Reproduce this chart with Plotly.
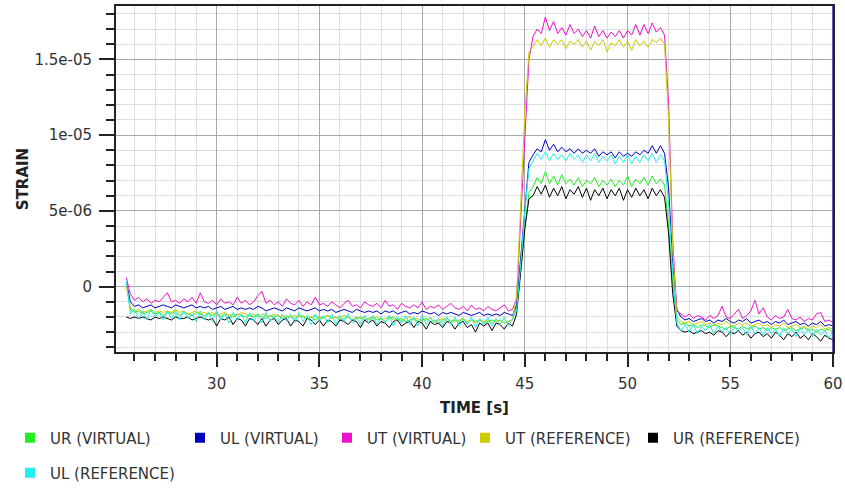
import plotly.graph_objects as go

# sample times (s): 25.6 ... 60.0 every 0.2 s
TIME = [round(25.6 + 0.2 * i, 1) for i in range(173)]

# strain values in micro-strain (x1e-6); segments: 25.6-44.4 | 44.6-45.2 | 45.4-51.8 | 52.0-52.2 | 52.4-60.0
UR_VIRTUAL = [
    0.2, -1.5, -1.7, -1.6, -1.8, -1.7, -1.6, -1.8, -1.7, -1.9,
    -1.7, -1.8, -1.6, -1.9, -1.7, -1.8, -1.9, -1.7, -1.8, -1.9,
    -1.8, -1.9, -1.7, -2.0, -1.8, -1.9, -2.0, -1.8, -1.9, -2.0,
    -1.9, -2.0, -1.8, -2.0, -2.1, -1.9, -2.0, -1.9, -2.1, -2.0,
    -2.0, -2.1, -1.9, -2.0, -2.1, -2.0, -2.2, -2.0, -2.1, -1.9,
    -2.1, -2.0, -2.2, -2.1, -2.0, -2.2, -2.1, -2.0, -2.2, -2.1,
    -2.0, -2.2, -2.1, -2.3, -2.1, -2.0, -2.2, -2.1, -2.3, -2.2,
    -2.1, -2.3, -2.2, -2.1, -2.3, -2.2, -2.4, -2.2, -2.1, -2.3,
    -2.2, -2.3, -2.1, -2.4, -2.2, -2.3, -2.2, -2.4, -2.3, -2.2,
    -2.3, -2.2, -2.4, -2.3, -2.2,
    -1.4, 1.0, 4.0, 6.2,
    6.6, 7.2, 6.8, 7.6, 6.8, 7.3, 6.7, 7.4, 6.8, 7.1,
    6.7, 7.2, 6.6, 7.0, 6.8, 7.2, 6.6, 7.0, 6.7, 7.1,
    6.6, 7.0, 6.7, 7.3, 6.6, 7.1, 6.8, 7.2, 6.7, 7.3,
    6.8, 7.1, 6.7,
    4.0, 0.2,
    -2.2, -2.5, -2.4, -2.6, -2.5, -2.7, -2.5, -2.6, -2.7, -2.5,
    -2.6, -2.7, -2.8, -2.6, -2.7, -2.8, -2.6, -2.8, -2.7, -2.6,
    -2.8, -2.7, -2.9, -2.7, -2.8, -2.7, -2.9, -2.8, -2.7, -2.9,
    -2.8, -2.7, -2.9, -2.8, -3.0, -2.8, -2.9, -2.8, -3.0,
]

UL_VIRTUAL = [
    0.3, -1.0, -1.3, -1.2, -1.4, -1.3, -1.2, -1.4, -1.3, -1.2,
    -1.3, -1.4, -1.2, -1.3, -1.4, -1.3, -1.2, -1.4, -1.3, -1.4,
    -1.3, -1.5, -1.4, -1.3, -1.5, -1.4, -1.3, -1.5, -1.4, -1.5,
    -1.4, -1.5, -1.3, -1.4, -1.6, -1.5, -1.4, -1.5, -1.6, -1.4,
    -1.5, -1.6, -1.4, -1.5, -1.6, -1.5, -1.4, -1.6, -1.5, -1.6,
    -1.5, -1.7, -1.6, -1.5, -1.6, -1.7, -1.5, -1.6, -1.7, -1.6,
    -1.7, -1.6, -1.8, -1.6, -1.7, -1.6, -1.8, -1.7, -1.6, -1.8,
    -1.7, -1.8, -1.6, -1.7, -1.8, -1.7, -1.9, -1.7, -1.8, -1.7,
    -1.8, -1.9, -1.7, -1.8, -1.9, -1.8, -1.7, -1.9, -1.8, -1.9,
    -1.8, -1.9, -1.7, -1.8, -1.9,
    -1.2, 2.0, 5.5, 8.2,
    8.7, 9.1, 8.9, 9.7, 9.0, 9.4, 8.9, 9.2, 8.9, 9.1,
    8.8, 9.1, 8.8, 9.0, 8.8, 9.1, 8.6, 8.9, 8.7, 8.9,
    8.5, 8.9, 8.6, 8.8, 8.6, 8.9, 8.7, 9.0, 8.8, 9.3,
    8.8, 9.3, 8.8,
    6.5, 1.5,
    -1.5, -2.0, -2.2, -2.1, -2.3, -2.2, -2.1, -2.3, -2.2, -2.4,
    -2.2, -2.3, -2.1, -2.3, -2.4, -2.2, -2.3, -2.1, -2.4, -2.3,
    -2.2, -2.4, -2.3, -2.5, -2.3, -2.4, -2.2, -2.5, -2.4, -2.3,
    -2.5, -2.4, -2.6, -2.4, -2.5, -2.3, -2.6, -2.5, -2.6,
]

UT_VIRTUAL = [
    0.6, -0.5, -0.9, -0.7, -1.0, -0.8, -1.1, -0.9, -1.0, -0.7,
    -0.4, -1.0, -0.9, -1.1, -0.8, -1.0, -0.7, -1.1, -0.4, -1.0,
    -1.1, -0.9, -1.2, -0.8, -1.1, -1.0, -1.2, -0.7, -1.1, -0.9,
    -1.2, -1.0, -0.6, -0.3, -1.1, -0.9, -1.2, -1.0, -1.3, -0.8,
    -1.1, -1.2, -0.9, -1.3, -1.0, -1.2, -0.7, -1.2, -1.1, -1.3,
    -1.0, -1.2, -1.4, -1.1, -0.9, -1.3, -1.2, -1.4, -1.0, -1.2,
    -1.3, -1.1, -1.4, -0.9, -1.3, -1.2, -1.5, -1.1, -1.3, -1.4,
    -1.2, -1.4, -1.0, -1.5, -1.3, -1.4, -1.2, -1.5, -1.3, -1.1,
    -1.4, -1.5, -1.3, -1.6, -1.2, -1.5, -1.4, -1.6, -1.3, -1.5,
    -1.6, -1.4, -1.2, -1.6, -1.5,
    -0.8, 4.5, 10.5, 15.0,
    16.5, 17.0, 16.7, 17.8, 16.9, 17.5, 16.7, 17.1, 16.6, 17.3,
    16.7, 17.0, 16.5, 16.9, 16.4, 17.2, 16.5, 16.9, 16.4, 16.8,
    16.5, 16.9, 16.4, 16.9, 16.6, 17.3, 16.6, 17.3, 16.7, 17.4,
    16.8, 17.1, 16.6,
    12.0, 3.0,
    -1.6, -1.8, -2.0, -1.8, -2.1, -1.9, -2.0, -2.2, -1.9, -2.1,
    -1.9, -1.3, -2.0, -2.1, -1.8, -1.5, -2.1, -1.9, -1.6, -0.9,
    -1.8, -1.4, -2.0, -2.2, -1.9, -2.1, -2.0, -1.5, -2.1, -2.2,
    -2.0, -2.3, -2.1, -2.2, -1.8, -1.7, -2.3, -2.2, -2.4,
]

UT_REFERENCE = [
    0.1, -1.4, -1.6, -1.5, -1.7, -1.6, -1.5, -1.7, -1.6, -1.7,
    -1.6, -1.7, -1.5, -1.7, -1.6, -1.8, -1.7, -1.6, -1.8, -1.7,
    -1.8, -1.7, -1.9, -1.8, -1.7, -1.9, -1.8, -1.9, -1.7, -1.8,
    -1.9, -1.8, -2.0, -1.8, -1.9, -2.0, -1.8, -1.9, -2.0, -1.9,
    -2.0, -1.9, -2.0, -1.9, -2.1, -2.0, -1.9, -2.1, -2.0, -1.9,
    -2.1, -2.0, -2.1, -1.9, -2.0, -2.2, -2.0, -2.1, -2.0, -2.2,
    -2.1, -2.0, -2.2, -2.1, -2.0, -2.2, -2.1, -2.3, -2.1, -2.0,
    -2.2, -2.1, -2.3, -2.2, -2.1, -2.3, -2.2, -2.1, -2.3, -2.2,
    -2.3, -2.2, -2.1, -2.3, -2.2, -2.4, -2.2, -2.3, -2.2, -2.4,
    -2.3, -2.2, -2.4, -2.3, -2.2,
    -0.6, 5.5, 11.5, 15.5,
    15.8, 16.3, 15.9, 16.4, 15.8, 16.3, 16.0, 16.3, 15.7, 16.2,
    16.0, 16.3, 15.8, 16.2, 15.6, 16.2, 15.9, 16.3, 15.5, 16.1,
    15.9, 16.3, 15.8, 16.2, 15.6, 16.3, 15.9, 16.2, 15.8, 16.3,
    16.1, 16.4, 16.0,
    11.0, 2.5,
    -2.0, -2.3, -2.4, -2.3, -2.5, -2.4, -2.3, -2.5, -2.4, -2.6,
    -2.4, -2.5, -2.3, -2.5, -2.6, -2.4, -2.5, -2.4, -2.6, -2.5,
    -2.4, -2.6, -2.5, -2.7, -2.5, -2.6, -2.4, -2.7, -2.6, -2.5,
    -2.7, -2.6, -2.8, -2.6, -2.7, -2.5, -2.8, -2.7, -2.8,
]

UR_REFERENCE = [
    -2.0, -2.1, -2.0, -2.1, -2.0, -2.1, -2.2, -2.0, -2.1, -2.0,
    -2.1, -2.2, -2.0, -2.1, -2.1, -2.0, -2.2, -2.1, -2.0, -2.1,
    -2.2, -2.1, -2.6, -2.1, -2.2, -2.0, -2.5, -2.1, -2.2, -2.6,
    -2.1, -2.2, -2.5, -2.1, -2.6, -2.2, -2.1, -2.5, -2.2, -2.1,
    -2.6, -2.2, -2.3, -2.6, -2.1, -2.2, -2.5, -2.2, -2.6, -2.2,
    -2.3, -2.6, -2.2, -2.3, -2.5, -2.2, -2.3, -2.7, -2.2, -2.4,
    -2.2, -2.6, -2.3, -2.4, -2.7, -2.3, -2.2, -2.6, -2.4, -2.3,
    -2.7, -2.3, -2.4, -2.8, -2.3, -2.5, -2.4, -2.7, -2.3, -2.4,
    -2.8, -2.4, -2.3, -2.7, -2.5, -3.0, -2.4, -2.6, -2.4, -2.9,
    -2.4, -2.5, -2.8, -2.4, -2.6,
    -1.8, 0.8, 3.8, 5.8,
    6.0, 6.6, 6.1, 6.7, 5.9, 6.5, 6.0, 6.6, 5.8, 6.4,
    6.1, 6.6, 5.9, 6.5, 5.7, 6.4, 6.0, 6.5, 5.8, 6.4,
    6.0, 6.5, 5.7, 6.4, 5.9, 6.5, 6.0, 6.4, 5.8, 6.5,
    6.0, 6.4, 5.9,
    3.5, -0.5,
    -2.6, -2.9, -3.0, -2.9, -3.1, -3.0, -2.9, -3.1, -3.0, -3.2,
    -2.9, -3.0, -3.3, -3.0, -3.1, -2.9, -3.2, -3.0, -3.4, -3.1,
    -3.0, -3.3, -3.1, -3.4, -3.0, -3.2, -3.5, -3.1, -3.3, -3.0,
    -3.4, -3.2, -3.5, -3.1, -3.3, -3.6, -3.2, -3.4, -3.5,
]

UL_REFERENCE = [
    0.4, -1.8, -1.5, -2.1, -1.6, -2.2, -1.5, -2.0, -1.7, -2.2,
    -1.6, -2.1, -1.7, -2.2, -1.6, -2.1, -1.8, -2.3, -1.6, -2.2,
    -1.7, -2.3, -1.6, -2.2, -1.8, -2.4, -1.7, -2.2, -1.8, -2.4,
    -1.7, -2.3, -1.8, -2.4, -1.7, -2.3, -1.9, -2.4, -1.8, -2.3,
    -1.8, -2.4, -1.7, -2.3, -1.9, -2.5, -1.8, -2.3, -1.9, -2.4,
    -1.8, -2.5, -1.9, -2.3, -1.8, -2.4, -2.0, -2.5, -1.9, -2.4,
    -1.9, -2.5, -2.0, -2.4, -1.9, -2.6, -2.0, -2.4, -1.9, -2.5,
    -2.0, -2.6, -1.9, -2.5, -2.0, -2.4, -2.1, -2.6, -2.0, -2.5,
    -2.0, -2.6, -2.1, -2.5, -2.0, -2.7, -2.1, -2.5, -2.0, -2.6,
    -2.1, -2.5, -2.0, -2.6, -2.1,
    -1.6, 1.5, 5.0, 7.8,
    8.3, 8.8, 8.4, 8.9, 8.3, 8.8, 8.4, 8.7, 8.3, 8.8,
    8.4, 8.7, 8.2, 8.7, 8.3, 8.8, 8.2, 8.6, 8.3, 8.7,
    8.1, 8.6, 8.2, 8.7, 8.1, 8.6, 8.2, 8.7, 8.3, 8.8,
    8.2, 8.7, 8.3,
    5.5, 0.8,
    -2.4, -2.9, -2.5, -3.0, -2.5, -3.1, -2.6, -2.9, -2.5, -3.1,
    -2.6, -3.0, -2.7, -3.2, -2.6, -3.0, -2.7, -3.2, -2.6, -3.1,
    -2.7, -3.2, -2.7, -3.1, -2.8, -3.3, -2.7, -3.1, -2.8, -3.3,
    -2.7, -3.2, -2.8, -3.3, -2.8, -3.2, -2.9, -3.4, -2.9,
]

SERIES = [
    ("UR (VIRTUAL)", UR_VIRTUAL, "#22EE22"),
    ("UL (VIRTUAL)", UL_VIRTUAL, "#0000BB"),
    ("UT (VIRTUAL)", UT_VIRTUAL, "#EE10CC"),
    ("UT (REFERENCE)", UT_REFERENCE, "#CCCC00"),
    ("UR (REFERENCE)", UR_REFERENCE, "#000000"),
    ("UL (REFERENCE)", UL_REFERENCE, "#22EEEE"),
]
for name, vals, _ in SERIES:
    assert len(vals) == len(TIME), (name, len(vals))

Y_TICKS = [0, 5e-6, 1e-5, 1.5e-5]
Y_TICK_TEXT = ["0", "5e-06", "1e-05", "1.5e-05"]
X_TICKS = [30, 35, 40, 45, 50, 55, 60]

FONT = "DejaVu Sans"
# plot-area pixel geometry: left 116, right 833, top 6, bottom 352
L, R, T, B = 116, 833, 6, 352
W, H = 845, 493


def px_x(p):
    return (p - L) / (R - L)


def px_y(p):
    return (B - p) / (B - T)


# legend text start positions (px) and row centres
LEG_POS = [(50, 438), (220, 438), (367, 438), (505, 438), (673, 438), (50, 473)]

fig = go.Figure()
for k, (name, vals, color) in enumerate(SERIES):
    lg = "legend" if k == 0 else f"legend{k + 1}"
    fig.add_trace(go.Scatter(
        x=TIME, y=[v * 1e-6 for v in vals], mode="lines", name=name,
        line=dict(color=color, width=1), showlegend=False, legendgroup=name,
    ))
    fig.add_trace(go.Scatter(
        x=[None], y=[None], mode="markers", name=name, legend=lg, legendgroup=name,
        marker=dict(symbol="square", size=10, color=color),
    ))

legends = {}
for k, (tx, ty) in enumerate(LEG_POS):
    key = "legend" if k == 0 else f"legend{k + 1}"
    legends[key] = dict(
        x=px_x(tx - 40), y=px_y(ty), xanchor="left", yanchor="middle",
        orientation="h", bgcolor="rgba(0,0,0,0)",
        font=dict(family=FONT, size=15, color="#333333"),
    )

fig.update_layout(
    width=W, height=H,
    margin=dict(l=L, r=W - R, t=T, b=H - B, autoexpand=False),
    paper_bgcolor="white", plot_bgcolor="white",
    font=dict(family=FONT, size=15, color="#333333"),
    **legends,
    xaxis=dict(
        range=[25.1, 60], tickmode="array", tickvals=X_TICKS,
        ticks="outside", ticklen=13, tickwidth=1.5, tickcolor="#222222",
        showline=True, linecolor="#222222", linewidth=2, mirror=True,
        showgrid=True, gridcolor="#AAAAAA", gridwidth=1, zeroline=False,
        ticklabelstandoff=4,
        tickfont=dict(family=FONT, size=15, color="#333333"),
        minor=dict(dtick=1, tick0=0, ticks="outside", ticklen=7, tickwidth=1.5,
                   tickcolor="#222222", showgrid=True, gridcolor="#DDDDDD", gridwidth=1),
        title=dict(text="TIME [s]", standoff=10,
                   font=dict(family=FONT, size=15, color="#222222", weight="bold")),
        automargin=False,
    ),
    yaxis=dict(
        range=[-4.31e-6, 18.52e-6], tickmode="array", tickvals=Y_TICKS, ticktext=Y_TICK_TEXT,
        ticks="outside", ticklen=15, tickwidth=1.5, tickcolor="#222222",
        showline=True, linecolor="#222222", linewidth=2, mirror=True,
        showgrid=True, gridcolor="#AAAAAA", gridwidth=1, zeroline=False,
        ticklabelstandoff=4,
        tickfont=dict(family=FONT, size=15, color="#333333"),
        minor=dict(dtick=1e-6, tick0=0, ticks="outside", ticklen=8, tickwidth=1.5,
                   tickcolor="#222222", showgrid=True, gridcolor="#DDDDDD", gridwidth=1),
        title=dict(text="STRAIN", standoff=2,
                   font=dict(family=FONT, size=15, color="#222222", weight="bold")),
        automargin=False,
    ),
    shapes=[dict(type="line", xref="x", yref="paper", x0=60, x1=60, y0=0, y1=1,
                 line=dict(color="#2A2A9A", width=1.5), layer="above")],
)

fig.write_html(
    "out.html",
    config={"displayModeBar": False},
    post_script="document.body.style.margin='0';document.body.style.overflow='hidden';",
)
